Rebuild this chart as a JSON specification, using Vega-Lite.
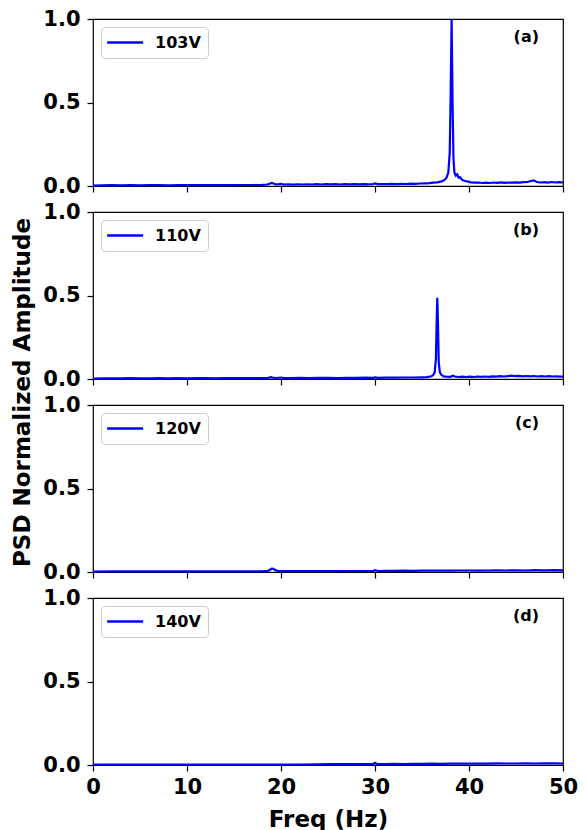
{
  "$schema": "https://vega.github.io/schema/vega-lite/v6.json",
  "padding": {"left": 10, "top": 7, "right": 10, "bottom": 0},
  "background": "#ffffff",
  "spacing": 26,
  "bounds": "flush",
  "resolve": {"scale": {"color": "independent"}, "legend": {"color": "independent"}},
  "datasets": {
    "psd": [
      {"p":"a","v":"103V","f":0,"a":0.003},{"p":"a","v":"103V","f":1,"a":0.004},{"p":"a","v":"103V","f":2,"a":0.005},{"p":"a","v":"103V","f":3,"a":0.004},{"p":"a","v":"103V","f":4,"a":0.005},{"p":"a","v":"103V","f":5,"a":0.004},{"p":"a","v":"103V","f":6,"a":0.005},{"p":"a","v":"103V","f":7,"a":0.005},{"p":"a","v":"103V","f":8,"a":0.004},{"p":"a","v":"103V","f":9,"a":0.005},{"p":"a","v":"103V","f":10,"a":0.005},{"p":"a","v":"103V","f":11,"a":0.006},{"p":"a","v":"103V","f":12,"a":0.005},{"p":"a","v":"103V","f":13,"a":0.005},{"p":"a","v":"103V","f":14,"a":0.006},{"p":"a","v":"103V","f":15,"a":0.005},{"p":"a","v":"103V","f":16,"a":0.006},{"p":"a","v":"103V","f":17,"a":0.006},{"p":"a","v":"103V","f":18,"a":0.007},{"p":"a","v":"103V","f":18.5,"a":0.009},{"p":"a","v":"103V","f":18.8,"a":0.013},{"p":"a","v":"103V","f":19,"a":0.019},{"p":"a","v":"103V","f":19.2,"a":0.015},{"p":"a","v":"103V","f":19.5,"a":0.009},{"p":"a","v":"103V","f":19.8,"a":0.011},{"p":"a","v":"103V","f":20,"a":0.013},{"p":"a","v":"103V","f":20.3,"a":0.009},{"p":"a","v":"103V","f":20.8,"a":0.010},{"p":"a","v":"103V","f":21.3,"a":0.008},{"p":"a","v":"103V","f":21.8,"a":0.010},{"p":"a","v":"103V","f":22.3,"a":0.009},{"p":"a","v":"103V","f":22.8,"a":0.010},{"p":"a","v":"103V","f":23.3,"a":0.009},{"p":"a","v":"103V","f":23.8,"a":0.011},{"p":"a","v":"103V","f":24.3,"a":0.009},{"p":"a","v":"103V","f":24.8,"a":0.011},{"p":"a","v":"103V","f":25.3,"a":0.010},{"p":"a","v":"103V","f":25.8,"a":0.011},{"p":"a","v":"103V","f":26.3,"a":0.009},{"p":"a","v":"103V","f":26.8,"a":0.011},{"p":"a","v":"103V","f":27.3,"a":0.010},{"p":"a","v":"103V","f":27.8,"a":0.011},{"p":"a","v":"103V","f":28.3,"a":0.010},{"p":"a","v":"103V","f":28.8,"a":0.011},{"p":"a","v":"103V","f":29.3,"a":0.010},{"p":"a","v":"103V","f":29.8,"a":0.012},{"p":"a","v":"103V","f":30,"a":0.016},{"p":"a","v":"103V","f":30.3,"a":0.011},{"p":"a","v":"103V","f":30.8,"a":0.012},{"p":"a","v":"103V","f":31.3,"a":0.011},{"p":"a","v":"103V","f":31.8,"a":0.013},{"p":"a","v":"103V","f":32.3,"a":0.011},{"p":"a","v":"103V","f":32.8,"a":0.013},{"p":"a","v":"103V","f":33.3,"a":0.012},{"p":"a","v":"103V","f":33.8,"a":0.014},{"p":"a","v":"103V","f":34.3,"a":0.013},{"p":"a","v":"103V","f":34.8,"a":0.015},{"p":"a","v":"103V","f":35.3,"a":0.016},{"p":"a","v":"103V","f":35.8,"a":0.017},{"p":"a","v":"103V","f":36.2,"a":0.020},{"p":"a","v":"103V","f":36.6,"a":0.022},{"p":"a","v":"103V","f":37.0,"a":0.026},{"p":"a","v":"103V","f":37.3,"a":0.032},{"p":"a","v":"103V","f":37.6,"a":0.048},{"p":"a","v":"103V","f":37.8,"a":0.08},{"p":"a","v":"103V","f":37.95,"a":0.2},{"p":"a","v":"103V","f":38.05,"a":0.55},{"p":"a","v":"103V","f":38.15,"a":1.0},{"p":"a","v":"103V","f":38.25,"a":0.5},{"p":"a","v":"103V","f":38.35,"a":0.16},{"p":"a","v":"103V","f":38.45,"a":0.08},{"p":"a","v":"103V","f":38.6,"a":0.062},{"p":"a","v":"103V","f":38.75,"a":0.07},{"p":"a","v":"103V","f":38.9,"a":0.05},{"p":"a","v":"103V","f":39.05,"a":0.052},{"p":"a","v":"103V","f":39.3,"a":0.035},{"p":"a","v":"103V","f":39.6,"a":0.03},{"p":"a","v":"103V","f":39.9,"a":0.026},{"p":"a","v":"103V","f":40.2,"a":0.022},{"p":"a","v":"103V","f":40.6,"a":0.02},{"p":"a","v":"103V","f":41.0,"a":0.021},{"p":"a","v":"103V","f":41.4,"a":0.018},{"p":"a","v":"103V","f":41.8,"a":0.02},{"p":"a","v":"103V","f":42.2,"a":0.018},{"p":"a","v":"103V","f":42.6,"a":0.021},{"p":"a","v":"103V","f":43.0,"a":0.019},{"p":"a","v":"103V","f":43.4,"a":0.022},{"p":"a","v":"103V","f":43.8,"a":0.019},{"p":"a","v":"103V","f":44.2,"a":0.021},{"p":"a","v":"103V","f":44.6,"a":0.02},{"p":"a","v":"103V","f":45.0,"a":0.022},{"p":"a","v":"103V","f":45.4,"a":0.02},{"p":"a","v":"103V","f":45.8,"a":0.023},{"p":"a","v":"103V","f":46.2,"a":0.024},{"p":"a","v":"103V","f":46.6,"a":0.03},{"p":"a","v":"103V","f":46.9,"a":0.034},{"p":"a","v":"103V","f":47.2,"a":0.024},{"p":"a","v":"103V","f":47.6,"a":0.021},{"p":"a","v":"103V","f":48.0,"a":0.023},{"p":"a","v":"103V","f":48.4,"a":0.02},{"p":"a","v":"103V","f":48.8,"a":0.024},{"p":"a","v":"103V","f":49.2,"a":0.021},{"p":"a","v":"103V","f":49.6,"a":0.023},{"p":"a","v":"103V","f":50,"a":0.021},

      {"p":"b","v":"110V","f":0,"a":0.003},{"p":"b","v":"110V","f":1,"a":0.004},{"p":"b","v":"110V","f":2,"a":0.004},{"p":"b","v":"110V","f":3,"a":0.004},{"p":"b","v":"110V","f":4,"a":0.005},{"p":"b","v":"110V","f":5,"a":0.004},{"p":"b","v":"110V","f":6,"a":0.004},{"p":"b","v":"110V","f":7,"a":0.005},{"p":"b","v":"110V","f":8,"a":0.004},{"p":"b","v":"110V","f":9,"a":0.005},{"p":"b","v":"110V","f":10,"a":0.004},{"p":"b","v":"110V","f":11,"a":0.005},{"p":"b","v":"110V","f":12,"a":0.005},{"p":"b","v":"110V","f":13,"a":0.004},{"p":"b","v":"110V","f":14,"a":0.005},{"p":"b","v":"110V","f":15,"a":0.005},{"p":"b","v":"110V","f":16,"a":0.005},{"p":"b","v":"110V","f":17,"a":0.006},{"p":"b","v":"110V","f":18,"a":0.005},{"p":"b","v":"110V","f":18.6,"a":0.006},{"p":"b","v":"110V","f":18.9,"a":0.011},{"p":"b","v":"110V","f":19.1,"a":0.008},{"p":"b","v":"110V","f":19.5,"a":0.006},{"p":"b","v":"110V","f":20,"a":0.009},{"p":"b","v":"110V","f":20.3,"a":0.006},{"p":"b","v":"110V","f":21,"a":0.006},{"p":"b","v":"110V","f":22,"a":0.007},{"p":"b","v":"110V","f":23,"a":0.006},{"p":"b","v":"110V","f":24,"a":0.007},{"p":"b","v":"110V","f":25,"a":0.007},{"p":"b","v":"110V","f":26,"a":0.006},{"p":"b","v":"110V","f":27,"a":0.007},{"p":"b","v":"110V","f":28,"a":0.007},{"p":"b","v":"110V","f":29,"a":0.008},{"p":"b","v":"110V","f":29.8,"a":0.007},{"p":"b","v":"110V","f":30,"a":0.010},{"p":"b","v":"110V","f":30.3,"a":0.007},{"p":"b","v":"110V","f":31,"a":0.008},{"p":"b","v":"110V","f":32,"a":0.008},{"p":"b","v":"110V","f":33,"a":0.009},{"p":"b","v":"110V","f":34,"a":0.009},{"p":"b","v":"110V","f":35,"a":0.010},{"p":"b","v":"110V","f":35.5,"a":0.011},{"p":"b","v":"110V","f":36.0,"a":0.016},{"p":"b","v":"110V","f":36.2,"a":0.024},{"p":"b","v":"110V","f":36.35,"a":0.04},{"p":"b","v":"110V","f":36.48,"a":0.12},{"p":"b","v":"110V","f":36.56,"a":0.35},{"p":"b","v":"110V","f":36.63,"a":0.487},{"p":"b","v":"110V","f":36.7,"a":0.33},{"p":"b","v":"110V","f":36.78,"a":0.1},{"p":"b","v":"110V","f":36.9,"a":0.04},{"p":"b","v":"110V","f":37.05,"a":0.025},{"p":"b","v":"110V","f":37.3,"a":0.016},{"p":"b","v":"110V","f":37.6,"a":0.014},{"p":"b","v":"110V","f":38.0,"a":0.013},{"p":"b","v":"110V","f":38.3,"a":0.02},{"p":"b","v":"110V","f":38.5,"a":0.015},{"p":"b","v":"110V","f":38.9,"a":0.012},{"p":"b","v":"110V","f":39.3,"a":0.014},{"p":"b","v":"110V","f":39.7,"a":0.012},{"p":"b","v":"110V","f":40.1,"a":0.014},{"p":"b","v":"110V","f":40.5,"a":0.012},{"p":"b","v":"110V","f":40.9,"a":0.015},{"p":"b","v":"110V","f":41.3,"a":0.013},{"p":"b","v":"110V","f":41.7,"a":0.015},{"p":"b","v":"110V","f":42.1,"a":0.013},{"p":"b","v":"110V","f":42.5,"a":0.016},{"p":"b","v":"110V","f":42.9,"a":0.014},{"p":"b","v":"110V","f":43.3,"a":0.017},{"p":"b","v":"110V","f":43.7,"a":0.015},{"p":"b","v":"110V","f":44.1,"a":0.017},{"p":"b","v":"110V","f":44.5,"a":0.02},{"p":"b","v":"110V","f":44.9,"a":0.017},{"p":"b","v":"110V","f":45.3,"a":0.019},{"p":"b","v":"110V","f":45.7,"a":0.016},{"p":"b","v":"110V","f":46.1,"a":0.018},{"p":"b","v":"110V","f":46.5,"a":0.016},{"p":"b","v":"110V","f":46.9,"a":0.018},{"p":"b","v":"110V","f":47.3,"a":0.015},{"p":"b","v":"110V","f":47.7,"a":0.017},{"p":"b","v":"110V","f":48.1,"a":0.015},{"p":"b","v":"110V","f":48.5,"a":0.017},{"p":"b","v":"110V","f":48.9,"a":0.015},{"p":"b","v":"110V","f":49.3,"a":0.016},{"p":"b","v":"110V","f":49.7,"a":0.014},{"p":"b","v":"110V","f":50,"a":0.015},

      {"p":"c","v":"120V","f":0,"a":0.003},{"p":"c","v":"120V","f":2,"a":0.004},{"p":"c","v":"120V","f":4,"a":0.004},{"p":"c","v":"120V","f":6,"a":0.004},{"p":"c","v":"120V","f":8,"a":0.004},{"p":"c","v":"120V","f":10,"a":0.004},{"p":"c","v":"120V","f":12,"a":0.004},{"p":"c","v":"120V","f":14,"a":0.004},{"p":"c","v":"120V","f":16,"a":0.004},{"p":"c","v":"120V","f":17.5,"a":0.004},{"p":"c","v":"120V","f":18.5,"a":0.005},{"p":"c","v":"120V","f":18.8,"a":0.012},{"p":"c","v":"120V","f":19.0,"a":0.02},{"p":"c","v":"120V","f":19.2,"a":0.019},{"p":"c","v":"120V","f":19.4,"a":0.011},{"p":"c","v":"120V","f":19.7,"a":0.006},{"p":"c","v":"120V","f":20.2,"a":0.005},{"p":"c","v":"120V","f":21,"a":0.005},{"p":"c","v":"120V","f":22,"a":0.005},{"p":"c","v":"120V","f":23,"a":0.005},{"p":"c","v":"120V","f":24,"a":0.005},{"p":"c","v":"120V","f":25,"a":0.006},{"p":"c","v":"120V","f":26,"a":0.005},{"p":"c","v":"120V","f":27,"a":0.006},{"p":"c","v":"120V","f":28,"a":0.006},{"p":"c","v":"120V","f":29,"a":0.006},{"p":"c","v":"120V","f":29.8,"a":0.006},{"p":"c","v":"120V","f":30,"a":0.011},{"p":"c","v":"120V","f":30.3,"a":0.006},{"p":"c","v":"120V","f":31,"a":0.007},{"p":"c","v":"120V","f":32,"a":0.007},{"p":"c","v":"120V","f":33,"a":0.008},{"p":"c","v":"120V","f":34,"a":0.007},{"p":"c","v":"120V","f":35,"a":0.008},{"p":"c","v":"120V","f":36,"a":0.008},{"p":"c","v":"120V","f":37,"a":0.009},{"p":"c","v":"120V","f":38,"a":0.008},{"p":"c","v":"120V","f":39,"a":0.009},{"p":"c","v":"120V","f":40,"a":0.009},{"p":"c","v":"120V","f":41,"a":0.008},{"p":"c","v":"120V","f":42,"a":0.009},{"p":"c","v":"120V","f":43,"a":0.01},{"p":"c","v":"120V","f":44,"a":0.009},{"p":"c","v":"120V","f":45,"a":0.01},{"p":"c","v":"120V","f":46,"a":0.009},{"p":"c","v":"120V","f":47,"a":0.011},{"p":"c","v":"120V","f":48,"a":0.01},{"p":"c","v":"120V","f":49,"a":0.011},{"p":"c","v":"120V","f":50,"a":0.01},

      {"p":"d","v":"140V","f":0,"a":0.003},{"p":"d","v":"140V","f":2,"a":0.003},{"p":"d","v":"140V","f":4,"a":0.003},{"p":"d","v":"140V","f":6,"a":0.003},{"p":"d","v":"140V","f":8,"a":0.003},{"p":"d","v":"140V","f":10,"a":0.003},{"p":"d","v":"140V","f":12,"a":0.003},{"p":"d","v":"140V","f":14,"a":0.003},{"p":"d","v":"140V","f":16,"a":0.003},{"p":"d","v":"140V","f":18,"a":0.003},{"p":"d","v":"140V","f":20,"a":0.003},{"p":"d","v":"140V","f":22,"a":0.003},{"p":"d","v":"140V","f":24,"a":0.004},{"p":"d","v":"140V","f":25,"a":0.005},{"p":"d","v":"140V","f":26,"a":0.005},{"p":"d","v":"140V","f":27,"a":0.005},{"p":"d","v":"140V","f":28,"a":0.005},{"p":"d","v":"140V","f":29,"a":0.006},{"p":"d","v":"140V","f":29.8,"a":0.006},{"p":"d","v":"140V","f":30,"a":0.013},{"p":"d","v":"140V","f":30.2,"a":0.006},{"p":"d","v":"140V","f":31,"a":0.006},{"p":"d","v":"140V","f":32,"a":0.007},{"p":"d","v":"140V","f":33,"a":0.006},{"p":"d","v":"140V","f":34,"a":0.007},{"p":"d","v":"140V","f":35,"a":0.007},{"p":"d","v":"140V","f":36,"a":0.008},{"p":"d","v":"140V","f":37,"a":0.007},{"p":"d","v":"140V","f":38,"a":0.008},{"p":"d","v":"140V","f":39,"a":0.008},{"p":"d","v":"140V","f":40,"a":0.009},{"p":"d","v":"140V","f":41,"a":0.008},{"p":"d","v":"140V","f":42,"a":0.008},{"p":"d","v":"140V","f":43,"a":0.01},{"p":"d","v":"140V","f":44,"a":0.009},{"p":"d","v":"140V","f":45,"a":0.009},{"p":"d","v":"140V","f":46,"a":0.01},{"p":"d","v":"140V","f":47,"a":0.009},{"p":"d","v":"140V","f":48,"a":0.01},{"p":"d","v":"140V","f":49,"a":0.01},{"p":"d","v":"140V","f":50,"a":0.009}
    ]
  },
  "data": {"name": "psd"},
  "vconcat": [
    {
      "width": 470, "height": 167,
      "title": {"text": "(a)"},
      "transform": [{"filter": "datum.p === 'a'"}],
      "mark": {"type": "line", "strokeWidth": 2.2},
      "encoding": {
        "x": {"field": "f", "type": "quantitative", "scale": {"domain": [0, 50], "nice": false}, "axis": {"values": [0, 10, 20, 30, 40, 50], "labels": false, "title": null}},
        "y": {"field": "a", "type": "quantitative", "scale": {"domain": [0, 1], "nice": false}, "axis": {"values": [0, 0.5, 1], "format": ".1f", "title": null}},
        "color": {"field": "v", "type": "nominal", "scale": {"range": ["#0000ff"]}, "legend": {"title": null}}
      }
    },
    {
      "width": 470, "height": 167,
      "title": {"text": "(b)"},
      "transform": [{"filter": "datum.p === 'b'"}],
      "mark": {"type": "line", "strokeWidth": 2.2},
      "encoding": {
        "x": {"field": "f", "type": "quantitative", "scale": {"domain": [0, 50], "nice": false}, "axis": {"values": [0, 10, 20, 30, 40, 50], "labels": false, "title": null}},
        "y": {"field": "a", "type": "quantitative", "scale": {"domain": [0, 1], "nice": false}, "axis": {"values": [0, 0.5, 1], "format": ".1f", "title": "PSD Normalized Amplitude", "titleX": -71, "titleY": 180, "titleAngle": 270, "titleAlign": "center", "titleBaseline": "middle"}},
        "color": {"field": "v", "type": "nominal", "scale": {"range": ["#0000ff"]}, "legend": {"title": null}}
      }
    },
    {
      "width": 470, "height": 167,
      "title": {"text": "(c)"},
      "transform": [{"filter": "datum.p === 'c'"}],
      "mark": {"type": "line", "strokeWidth": 2.2},
      "encoding": {
        "x": {"field": "f", "type": "quantitative", "scale": {"domain": [0, 50], "nice": false}, "axis": {"values": [0, 10, 20, 30, 40, 50], "labels": false, "title": null}},
        "y": {"field": "a", "type": "quantitative", "scale": {"domain": [0, 1], "nice": false}, "axis": {"values": [0, 0.5, 1], "format": ".1f", "title": null}},
        "color": {"field": "v", "type": "nominal", "scale": {"range": ["#0000ff"]}, "legend": {"title": null}}
      }
    },
    {
      "width": 470, "height": 167,
      "title": {"text": "(d)"},
      "transform": [{"filter": "datum.p === 'd'"}],
      "mark": {"type": "line", "strokeWidth": 2.2},
      "encoding": {
        "x": {"field": "f", "type": "quantitative", "scale": {"domain": [0, 50], "nice": false}, "axis": {"values": [0, 10, 20, 30, 40, 50], "title": "Freq (Hz)", "labelFlush": false, "labelPadding": 5, "titlePadding": 11}},
        "y": {"field": "a", "type": "quantitative", "scale": {"domain": [0, 1], "nice": false}, "axis": {"values": [0, 0.5, 1], "format": ".1f", "title": null}},
        "color": {"field": "v", "type": "nominal", "scale": {"range": ["#0000ff"]}, "legend": {"title": null}}
      }
    }
  ],
  "config": {
    "font": "DejaVu Sans",
    "view": {"stroke": "#000000", "strokeWidth": 1.2},
    "axis": {"grid": false, "domain": false, "tickColor": "#000000", "tickSize": 6, "tickWidth": 1.2, "labelFont": "DejaVu Sans", "labelFontSize": 21, "labelFontWeight": "bold", "labelColor": "#000000", "labelPadding": 7, "titleFont": "DejaVu Sans", "titleFontSize": 23, "titleFontWeight": "bold", "titleColor": "#000000"},
    "legend": {"orient": "top-left", "offset": 8, "padding": 7, "strokeColor": "#cccccc", "cornerRadius": 4, "fillColor": "#ffffff", "symbolType": "M-1.3,0H3.7", "symbolSize": 207, "symbolStrokeWidth": 2.5, "labelFont": "DejaVu Sans", "labelFontSize": 16, "labelFontWeight": "bold", "labelColor": "#000000", "labelOffset": 30},
    "title": {"anchor": "end", "frame": "group", "font": "DejaVu Sans", "fontSize": 16, "fontWeight": "bold", "color": "#000000", "offset": -37, "dx": -24, "baseline": "alphabetic"}
  }
}
